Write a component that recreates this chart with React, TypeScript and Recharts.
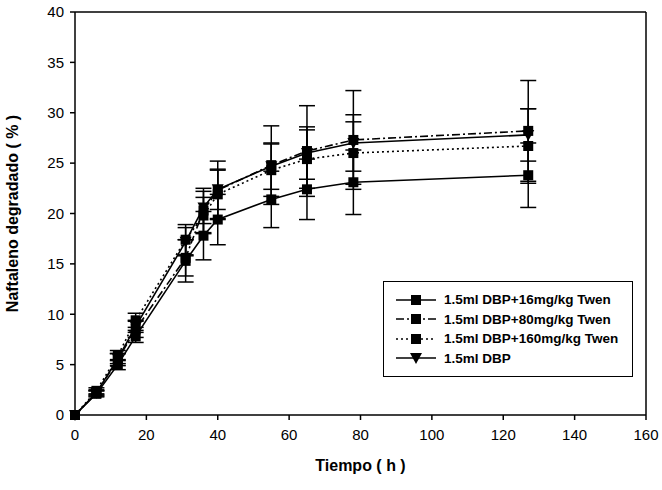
import React from "react";
import {
  ErrorBar,
  Line,
  LineChart,
  ReferenceLine,
  XAxis,
  YAxis
} from "recharts";

const hours = [0, 6, 12, 17, 31, 36, 40, 55, 65, 78, 127];

const tw16 = [0, 2.1, 5.0, 7.8, 15.3, 17.8, 19.4, 21.4, 22.4, 23.1, 23.8];
const tw16Err = [0, 0.3, 0.5, 0.6, 2.1, 2.4, 2.5, 2.8, 3.0, 3.2, 3.2];
const tw80 = [0, 2.2, 5.5, 8.5, 15.6, 20.3, 22.3, 24.8, 26.2, 27.3, 28.2];
const tw80Err = [0, 0.3, 0.6, 0.8, 1.8, 2.2, 2.9, 3.9, 4.5, 4.9, 5.0];
const tw160 = [0, 2.4, 5.9, 9.4, 17.4, 19.8, 21.9, 24.3, 25.4, 26.0, 26.7];
const tw160Err = [0, 0.3, 0.5, 0.7, 1.5, 1.8, 2.4, 2.6, 2.9, 3.1, 3.7];
const dbp = [0, 2.2, 5.6, 8.8, 17.2, 20.6, 22.4, 24.7, 26.0, 27.0, 27.8];
const dbpErr = [0, 0.2, 0.5, 0.6, 1.4, 1.6, 2.0, 2.3, 2.6, 2.8, 2.6];

const xTicks = [0, 20, 40, 60, 80, 100, 120, 140, 160];
const yTicks = [0, 5, 10, 15, 20, 25, 30, 35, 40];

const data = hours.map((h, i) => ({
  h,
  tw16: tw16[i],
  tw16Err: tw16Err[i],
  tw80: tw80[i],
  tw80Err: tw80Err[i],
  tw160: tw160[i],
  tw160Err: tw160Err[i],
  dbp: dbp[i],
  dbpErr: dbpErr[i]
}));

const FONT = '"Liberation Sans", Arial, sans-serif';

const legendItems = [
  { name: "1.5ml DBP+16mg/kg Twen", dash: undefined, shape: "square" },
  { name: "1.5ml DBP+80mg/kg Twen", dash: "8 3 2 3", shape: "square" },
  { name: "1.5ml DBP+160mg/kg Twen", dash: "2 3", shape: "square" },
  { name: "1.5ml DBP", dash: undefined, shape: "triangle" }
];

const squareDot = (props: any) => {
  const { cx, cy, index } = props;
  if (cx == null || cy == null) return <g key={index} />;
  return <rect key={index} x={cx - 5} y={cy - 5} width={10} height={10} fill="#000" />;
};

const triangleDot = (props: any) => {
  const { cx, cy, index } = props;
  if (cx == null || cy == null) return <g key={index} />;
  return (
    <path
      key={index}
      d={`M${cx - 6},${cy - 5} L${cx + 6},${cy - 5} L${cx},${cy + 6} Z`}
      fill="#000"
    />
  );
};

function ChartLegend() {
  return (
    <div
      style={{
        position: "absolute",
        left: 383,
        top: 281,
        width: 250,
        height: 96,
        boxSizing: "border-box",
        border: "1.5px solid #000",
        background: "#fff",
        padding: "8px 0 0 12px",
        fontFamily: FONT,
        fontWeight: "bold",
        fontSize: 13.5
      }}
    >
      {legendItems.map((it) => (
        <div key={it.name} style={{ display: "flex", alignItems: "center", height: 19.5 }}>
          <svg width={40} height={14} style={{ marginRight: 8 }}>
            <line x1={0} y1={7} x2={40} y2={7} stroke="#000" strokeWidth={1.5} strokeDasharray={it.dash} />
            {it.shape === "square" ? (
              <rect x={15} y={2} width={10} height={10} fill="#000" />
            ) : (
              <path d="M14,2 L26,2 L20,13 Z" fill="#000" />
            )}
          </svg>
          <span>{it.name}</span>
        </div>
      ))}
    </div>
  );
}

export default function App() {
  return (
    <div style={{ position: "absolute", left: 0, top: 0, width: 662, height: 490, background: "#fff" }}>
      <LineChart
        width={662}
        height={490}
        data={data}
        margin={{ top: 12, right: 16, bottom: 15, left: 0 }}
      >
        <XAxis
          dataKey="h"
          type="number"
          domain={[0, 160]}
          ticks={xTicks}
          interval={0}
          tickSize={5}
          tickMargin={9}
          stroke="#000"
          strokeWidth={1.5}
          tick={{ fill: "#000", fontSize: 15, fontFamily: FONT }}
          height={60}
          label={{
            value: "Tiempo ( h )",
            position: "insideBottom",
            offset: 4,
            fill: "#000",
            fontSize: 16,
            fontWeight: "bold",
            fontFamily: FONT
          }}
        />
        <YAxis
          type="number"
          domain={[0, 40]}
          ticks={yTicks}
          interval={0}
          tickSize={5}
          tickMargin={6}
          width={75}
          stroke="#000"
          strokeWidth={1.5}
          tick={{ fill: "#000", fontSize: 15, fontFamily: FONT }}
          label={{
            value: "Naftaleno degradado ( % )",
            angle: -90,
            position: "insideLeft",
            offset: 12,
            style: { textAnchor: "middle" },
            fill: "#000",
            fontSize: 16,
            fontWeight: "bold",
            fontFamily: FONT
          }}
        />
        <ReferenceLine y={40} stroke="#000" strokeWidth={1.5} />
        <ReferenceLine x={160} stroke="#000" strokeWidth={1.5} />
        <Line
          dataKey="tw16"
          name="1.5ml DBP+16mg/kg Twen"
          stroke="#000"
          strokeWidth={1.6}
          dot={squareDot}
          isAnimationActive={false}
        >
          <ErrorBar dataKey="tw16Err" width={8} stroke="#000" strokeWidth={1.5} direction="y" />
        </Line>
        <Line
          dataKey="tw80"
          name="1.5ml DBP+80mg/kg Twen"
          stroke="#000"
          strokeWidth={1.6}
          strokeDasharray="8 3 2 3"
          dot={squareDot}
          isAnimationActive={false}
        >
          <ErrorBar dataKey="tw80Err" width={8} stroke="#000" strokeWidth={1.5} direction="y" />
        </Line>
        <Line
          dataKey="tw160"
          name="1.5ml DBP+160mg/kg Twen"
          stroke="#000"
          strokeWidth={1.6}
          strokeDasharray="2 3"
          dot={squareDot}
          isAnimationActive={false}
        >
          <ErrorBar dataKey="tw160Err" width={8} stroke="#000" strokeWidth={1.5} direction="y" />
        </Line>
        <Line
          dataKey="dbp"
          name="1.5ml DBP"
          stroke="#000"
          strokeWidth={1.6}
          dot={triangleDot}
          isAnimationActive={false}
        >
          <ErrorBar dataKey="dbpErr" width={8} stroke="#000" strokeWidth={1.5} direction="y" />
        </Line>
      </LineChart>
      <ChartLegend />
    </div>
  );
}
